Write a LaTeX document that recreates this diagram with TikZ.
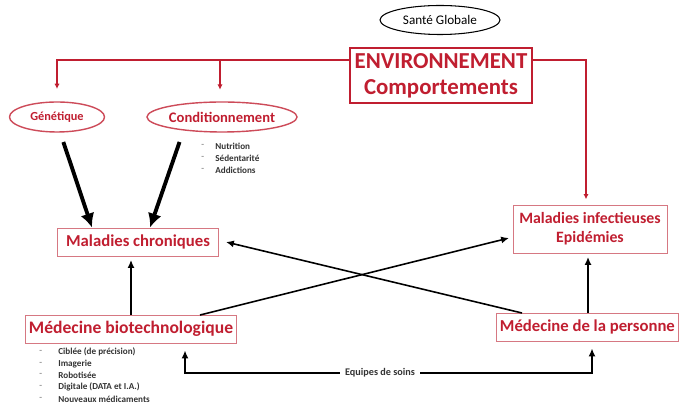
\documentclass[tikz,border=0pt]{standalone}
\usepackage{fontspec}
\setmainfont{Carlito}
\usepackage{tikz}
\usetikzlibrary{positioning, arrows.meta, shapes.geometric, calc}

\definecolor{rouge}{RGB}{192,30,48}
\definecolor{rose}{RGB}{214,120,130}

\begin{document}
\begin{tikzpicture}[
	redbox/.style={draw=rose, line width=0.5pt, text=rouge, font=\bfseries\fontsize{9.5}{11}\selectfont, inner sep=2pt},
	redoval/.style={ellipse, draw=rouge!80, line width=0.8pt, text=rouge, font=\bfseries\fontsize{7}{8}\selectfont, inner sep=0pt},
	liste/.style={font=\bfseries\fontsize{5.2}{6}\selectfont, text=black!80, anchor=west, inner sep=0pt},
	redarrow/.style={draw=rouge, line width=0.9pt, -{Latex[length=3pt,width=3pt]}},
	fleche/.style={draw=black, line width=0.9pt, -{Latex[length=4.5pt,width=4pt]}},
	grosse/.style={draw=black, line width=2.2pt, -{Latex[length=8pt,width=8pt]}}
	]
	\useasboundingbox (0,0) rectangle (13.58,8.26);
	
	% Top
	\node[ellipse, draw, line width=0.6pt, minimum width=2.4cm, minimum height=0.58cm, inner sep=0pt, font=\fontsize{7.5}{8}\selectfont] at (8.8,7.86) (sante) {Santé Globale};
	\node[draw=rouge, line width=1pt, text=rouge, align=center, minimum width=3.64cm, minimum height=1.1cm, inner sep=1pt, font=\bfseries\fontsize{13}{15}\selectfont] at (8.82,6.75) (env) {ENVIRONNEMENT\\Comportements};
	
	% Causes
	\node[redoval, minimum width=1.9cm, minimum height=0.6cm] at (1.14,5.92) (genetique) {Génétique};
	\node[redoval, minimum width=2.4cm, minimum height=0.6cm, font=\bfseries\fontsize{8.3}{9}\selectfont] at (4.44,5.92) (cond) {Conditionnement};
	
	\foreach \y/\t in {5.34/Nutrition, 5.10/Sédentarité, 4.86/Addictions}{
		\node[liste] at (4.3,\y) {\t};
		\node[liste, text=black!40] at (4.02,\y) {-};
	}
	
	% Maladies
	\node[redbox, minimum width=3.22cm, minimum height=0.56cm] at (2.76,3.42) (chron) {Maladies chroniques};
	\node[redbox, align=center, minimum width=3.08cm, minimum height=0.96cm, font=\bfseries\fontsize{9}{11}\selectfont] at (11.8,3.68) (infect) {Maladies infectieuses\\Epidémies};
	
	% Medecines
	\node[redbox, minimum width=4.16cm, minimum height=0.56cm, font=\bfseries\fontsize{10}{12}\selectfont] at (2.62,1.68) (biotech) {Médecine biotechnologique};
	\node[redbox, minimum height=0.56cm, minimum width=3.62cm, anchor=west, font=\bfseries\fontsize{9.5}{12}\selectfont] at (9.92,1.72) (personne) {Médecine de la personne};
	
	\foreach \y/\t in {1.22/Ciblée (de précision), 0.98/Imagerie, 0.76/Robotisée, 0.52/Digitale (DATA et I.A.), 0.28/Nouveaux médicaments}{
		\node[liste] at (1.16,\y) {\t};
		\node[liste, text=black!40] at (0.78,\y) {-};
	}
	
	% Red links
	\draw[redarrow, shorten >=7pt] (env.west |- 0,7.06) -| (genetique.north);
	\draw[redarrow, shorten >=7pt] (4.4,7.06) -- (4.4,6.22);
	\draw[redarrow, shorten >=3pt] (env.east |- 0,7.06) -| (infect.north -| 11.72,0);
	
	% Thick arrows
	\draw[grosse, shorten <=6pt] (1.2,5.62) -- ([xshift=-0.92cm]chron.north);
	\draw[grosse, shorten <=6pt] (3.66,5.62) -- ([xshift=0.24cm]chron.north);
	
	% Cross and verticals
	\draw[fleche] (4.0,1.96) -- ([yshift=-0.18cm, xshift=-2pt]infect.west);
	\draw[fleche] (10.44,2.0) -- ([xshift=4pt]chron.east);
	\draw[fleche, shorten >=2pt] (biotech.north) -- (biotech.north |- chron.south);
	\draw[fleche, shorten >=2pt] (11.76,2.0) -- (11.76,0 |- infect.south);
	
	% Equipes de soins
	\node[fill=white, inner sep=3pt, font=\bfseries\fontsize{5.8}{6}\selectfont, text=black!80] at (7.6,0.8) (equipes) {Equipes de soins};
	\draw[fleche, shorten >=4pt] (equipes.west) -| ([xshift=1.08cm]biotech.south);
	\draw[fleche, shorten >=4pt] (equipes.east) -| (11.84,0 |- personne.south);
\end{tikzpicture}
\end{document}
